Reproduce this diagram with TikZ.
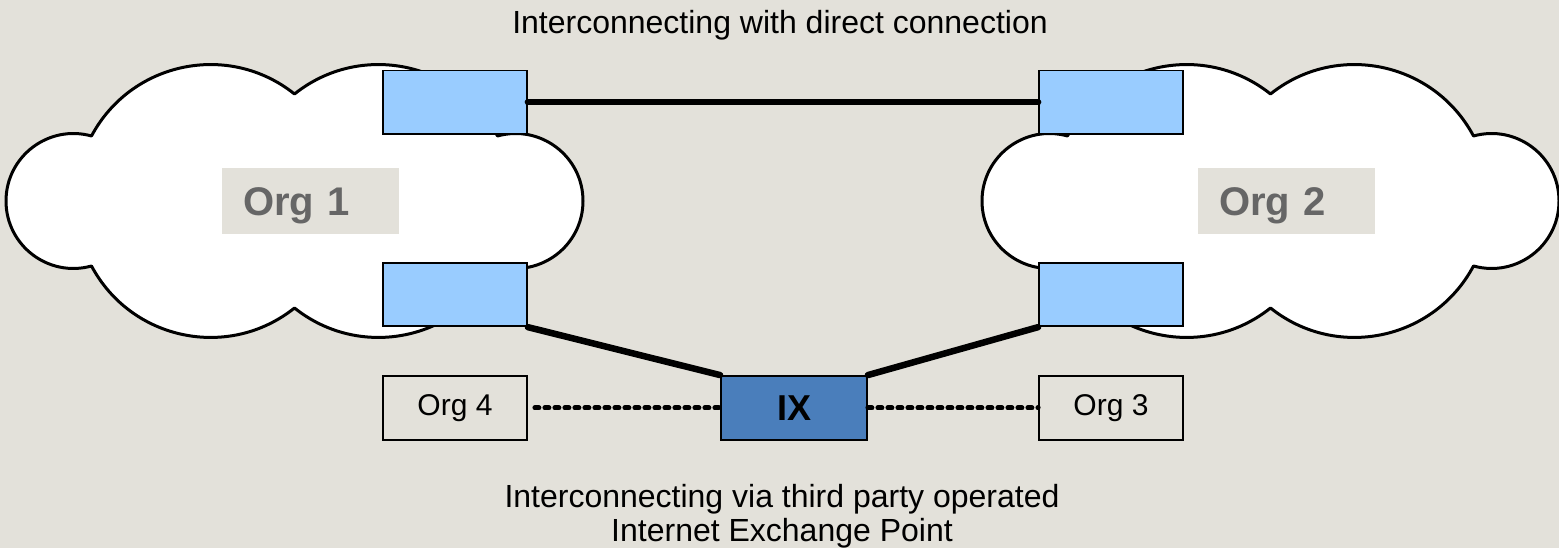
\documentclass[tikz,border=0pt]{standalone}
\usepackage{fontspec}
\setmainfont{Liberation Sans}
\definecolor{pagebg}{RGB}{227,225,218}
\definecolor{portblue}{RGB}{153,204,255}
\definecolor{ixblue}{RGB}{74,126,187}
\definecolor{labelgrey}{RGB}{102,102,102}
\tikzset{
  cloudline/.style={draw=black, line width=3pt, fill=white, line join=round},
  cloudshape/.pic={
    \path[cloudline] (-203,65)
      .. controls (-163.3,139.4) and (-65.9,159.6) .. (0,107)
      .. controls (65.9,159.6) and (163.3,139.4) .. (203,65)
      .. controls (246,76.9) and (288.5,44.6) .. (288.5,0)
      .. controls (288.5,-44.6) and (246,-76.9) .. (203,-65)
      .. controls (163.3,-139.4) and (65.9,-159.6) .. (0,-107)
      .. controls (-65.9,-159.6) and (-163.3,-139.4) .. (-203,-65)
      .. controls (-246,-76.9) and (-288.5,-44.6) .. (-288.5,0)
      .. controls (-288.5,44.6) and (-246,76.9) .. (-203,65) -- cycle;
  },
  port/.style={draw=black, line width=1.8pt, fill=portblue,
    minimum width=144pt, minimum height=63.5pt, inner sep=0pt},
  orgbox/.style={draw=black, line width=1.8pt, fill=pagebg,
    minimum width=144pt, minimum height=64pt, inner sep=0pt,
    font=\fontsize{30}{34}\selectfont},
  ixbox/.style={draw=black, line width=1.8pt, fill=ixblue,
    minimum width=146pt, minimum height=64pt, inner sep=0pt,
    font=\fontsize{36}{40}\selectfont\bfseries},
  orglabel/.style={fill=pagebg, anchor=west, inner xsep=21pt, inner ysep=0pt,
    text width=135pt, align=left, minimum height=66pt,
    text height=29pt, text depth=0pt, text=labelgrey,
    font=\fontsize{40}{44}\selectfont\bfseries},
  caption/.style={inner sep=0pt, align=center,
    font=\fontsize{32}{34.3}\selectfont},
  link/.style={line width=6.5pt, line cap=round},
  peering/.style={line width=5pt, line cap=round, dash pattern=on 4pt off 6pt}
}
\begin{document}
\begin{tikzpicture}[x=1pt, y=1pt]
  \useasboundingbox (0,0) rectangle (1559,548);
  \fill[pagebg] (0,0) rectangle (1559,548);

  % the two organisation networks
  \pic at (294.5,347) {cloudshape};
  \pic at (1270.5,347) {cloudshape};

  \node[orglabel] (lab1) at (222,347) {Org 1};
  \node[orglabel] (lab2) at (1198,347) {Org 2};

  % border routers
  \node[port] (b1u) at (455,445.75) {};
  \node[port] (b1l) at (455,253.5) {};
  \node[port] (b2u) at (1111,445.75) {};
  \node[port] (b2l) at (1111,253.5) {};

  % exchange point and its other members
  \node[orgbox] (org4) at (455,140) {Org 4};
  \node[ixbox] (ix) at (794,140) {IX};
  \node[orgbox] (org3) at (1111,140) {Org 3};

  % connections
  \draw[link] (b1u.east) -- (b2u.west);
  \draw[link] (b1l.south east) -- (ix.north west);
  \draw[link] (ix.north east) -- (b2l.south west);
  \draw[peering, shorten <=7pt] (org4.east) -- (ix.west);
  \draw[peering] (ix.east) -- (org3.west);

  % captions
  \node[caption, anchor=base] (top) at (780,514) {Interconnecting with direct connection};
  \node[caption, anchor=south] (bottom) at (782,-0.5)
    {Interconnecting via third party operated\\Internet Exchange Point};
\end{tikzpicture}
\end{document}
